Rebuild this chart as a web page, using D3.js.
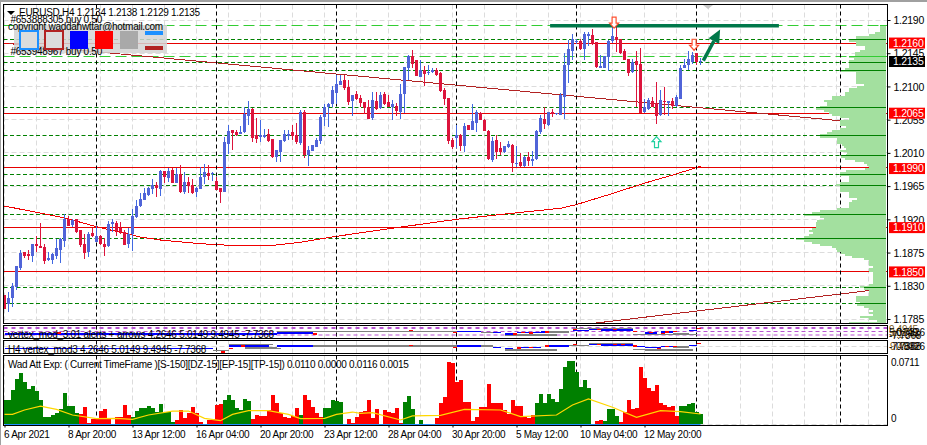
<!DOCTYPE html>
<html><head><meta charset="utf-8">
<style>html,body{margin:0;padding:0;background:#fff;overflow:hidden}
svg{display:block}
text{font-family:"Liberation Sans",Arial,sans-serif;font-size:10px;letter-spacing:-0.28px;fill:#000}
</style></head><body>
<script src="https://cdn.jsdelivr.net/npm/d3@7"></script>
<script>
// Prices are quoted in 1/10000 units (11817 = 1.1817)
const candleOpen=[11817,11805,11813,11828,11854,11876,11873,11870,11887,11884,
11883,11865,11865,11870,11878,11891,11920,11912,11920,11906,
11887,11876,11901,11889,11897,11887,11884,11914,11915,11908,
11903,11887,11900,11923,11938,11946,11953,11961,11967,11961,
11986,11976,11987,11969,11981,11957,11971,11967,11957,11961,
11977,11983,11981,11972,11962,11957,12022,12041,12038,12036,
12038,12060,12069,12034,12032,12032,12036,12029,12005,12011,
12026,12033,12038,12034,12023,12065,12007,12013,12018,12026,
12059,12072,12076,12091,12102,12109,12099,12080,12090,12084,
12079,12072,12057,12080,12071,12090,12079,12072,12074,12065,
12090,12125,12141,12136,12113,12122,12118,12120,12122,12118,
12095,12084,12027,12030,12034,12019,12048,12041,12050,12064,
12055,12040,12000,12027,12017,12011,12018,12021,11995,11998,
11992,12005,11999,12002,12038,12056,12048,12065,12063,12061,
12086,12129,12148,12160,12162,12151,12168,12170,12160,12125,
12125,12140,12162,12167,12164,12148,12137,12120,12135,12130,
12065,12069,12080,12078,12061,12080,12078,12080,12074,12083,
12125,12129,12133,12145,12134];
const candleHigh=[11818,11822,11834,11857,11878,11876,11878,11887,11897,11915,
11887,11876,11874,11893,11895,11927,11925,11920,11920,11906,
11900,11903,11908,11911,11899,11895,11918,11920,11918,11916,
11906,11908,11934,11946,11956,11962,11964,11975,11971,11987,
11986,11990,11990,11990,11994,11984,11977,11975,11964,11991,
11995,11994,11984,11977,11962,12032,12048,12041,12041,12046,
12072,12080,12071,12057,12055,12042,12042,12029,12014,12027,
12041,12041,12048,12050,12068,12068,12019,12021,12030,12061,
12076,12078,12101,12116,12116,12116,12109,12088,12094,12088,
12079,12082,12092,12092,12092,12092,12088,12082,12078,12103,
12126,12143,12149,12136,12136,12128,12129,12125,12125,12120,
12098,12084,12030,12048,12036,12050,12048,12076,12068,12065,
12056,12041,12032,12034,12025,12019,12026,12022,12019,12010,
12006,12011,12013,12041,12061,12072,12065,12069,12064,12091,
12145,12163,12171,12164,12164,12174,12174,12178,12160,12143,
12141,12163,12183,12185,12164,12151,12137,12137,12148,12152,
12083,12084,12086,12106,12095,12099,12080,12084,12088,12129,
12137,12148,12147,12145,12138];
const candleLow=[11799,11795,11801,11824,11851,11868,11865,11862,11876,11881,
11860,11864,11860,11866,11861,11883,11911,11910,11901,11883,
11866,11869,11896,11889,11885,11870,11883,11903,11897,11900,
11885,11881,11877,11922,11937,11946,11952,11954,11950,11952,
11969,11971,11969,11969,11956,11954,11956,11954,11950,11961,
11968,11973,11972,11960,11942,11957,12009,12014,12033,12036,
12037,12048,12025,12023,12025,12030,12025,12003,11998,11998,
12025,12027,12027,12022,12021,12003,11992,12013,12018,12022,
12046,12045,12072,12076,12102,12095,12075,12060,12082,12072,
12063,12056,12055,12068,12069,12075,12072,12055,12060,12056,
12064,12109,12125,12114,12113,12101,12116,12118,12114,12092,
12075,12022,12015,12017,12013,12011,12041,12041,12038,12055,
12040,12000,11998,12002,12007,12010,12017,11984,11991,11991,
11991,11992,11992,12000,12036,12042,12046,12059,12061,12061,
12056,12105,12136,12158,12149,12136,12155,12156,12125,12125,
12125,12121,12159,12147,12144,12136,12114,12118,12072,12064,
12064,12068,12072,12049,12060,12061,12060,12069,12072,12083,
12125,12122,12130,12129,12129];
const candleClose=[11799,11814,11830,11857,11874,11870,11870,11887,11884,11881,
11864,11868,11873,11881,11894,11920,11911,11919,11903,11885,
11874,11900,11897,11897,11887,11883,11914,11916,11904,11903,
11885,11900,11925,11938,11948,11956,11962,11967,11962,11986,
11977,11986,11969,11981,11957,11971,11965,11956,11962,11977,
11984,11979,11983,11960,11957,12025,12040,12037,12034,12038,
12063,12069,12030,12029,12034,12034,12026,12005,12014,12027,
12036,12036,12033,12025,12065,12007,12014,12021,12027,12059,
12072,12076,12095,12103,12107,12098,12079,12088,12083,12078,
12071,12056,12082,12069,12088,12076,12072,12076,12067,12090,
12126,12141,12130,12114,12122,12117,12120,12122,12116,12094,
12083,12026,12018,12034,12019,12046,12041,12053,12065,12055,
12040,12002,12026,12011,12011,12019,12022,11996,11996,11992,
12005,11999,12002,12040,12057,12049,12065,12063,12064,12088,
12129,12151,12164,12162,12151,12171,12171,12158,12126,12128,
12141,12162,12168,12163,12145,12136,12118,12133,12129,12064,
12072,12082,12072,12060,12082,12079,12080,12074,12086,12125,
12129,12137,12143,12133,12135];

const maIndex=[0,15,23,34,39,49,59,66,74,83,97,113,123,139,143,152,160,167,173,174];
const maPrice=[11938,11922,11910,11896,11892,11887,11884,11884,11889,11897,11908,11920,11926,11935,11940,11955,11969,11980,11990,11992];
const trendUpperIndex=[1,220], trendUpperPrice=[12158,12048];
const trendLowerIndex=[147,220], trendLowerPrice=[11779,11826];

const priceTicks=[1.2190,1.2145,1.2100,1.2055,1.2010,1.1965,1.1920,1.1875,1.1830,1.1785];
const redLevels=[1.21585,1.20635,1.1990,1.19095,1.1850];
const redLabels=[1.2160,1.2065,1.1990,1.1910,1.1850];
const greenLevels=[1.2164,1.2133,1.2121,1.2072,1.2034,1.2006,1.1981,1.1966,1.1926,1.1894,1.1828,1.1806];
const limeLevels=[1.2183,1.2140];
const currentPrice=1.2135;
const gridIndex=d3.range(0,221,8);
const separatorIndex=[23,53,83,113,143,173,209];
const timeIndex=[0,16,32,48,64,80,96,112,128,144,160];
const timeLabels=["6 Apr 2021","8 Apr 20:00","13 Apr 12:00","16 Apr 04:00","20 Apr 20:00","23 Apr 12:00","28 Apr 04:00","30 Apr 20:00","5 May 12:00","10 May 04:00","12 May 20:00"];

// volume profile: one bin per step, from top to bottom
const profileTop=1.21819, profileStep=0.000271;
const profileValues=[6,6,6,11,17,30,30,37,30,30,21,21,26,31,31,37,32,37,37,37,37,41,45,30,30,30,30,30,30,22,29,37,37,41,41,54,54,62,59,59,66,70,62,57,54,46,37,46,46,46,40,46,54,59,66,66,49,49,49,44,42,40,46,39,40,45,41,31,22,19,17,21,
40,46,46,37,37,37,46,50,46,46,46,37,37,37,29,34,37,37,37,49,66,74,82,66,62,69,70,70,70,74,77,73,77,82,90,82,74,66,54,50,49,45,41,34,22,17,17,17,13,17,17,13,13,13,13,13,13,17,26,22,17,17,17,30,30,30,26,29,22,17,13,17,13,26,17,9,37];

// lower panels
const p2BlueStart=[0,68,113,122,125,128,134,142,146,149,160,164,171,173];
const p2BlueEnd=[68,77,119,124,127,135,136,146,149,157,163,167,173,174];
const p2BlueValue=[-3,-1.5,.5,-1,-3,-1,0,2.5,4,3,-1.5,0,2.5,5];
const p2GrayStart=[68,77,99,119,125,136,142,157,167];
const p2GrayEnd=[77,99,113,122,138,141,157,173,171];
const p2GrayValue=[1,.5,.5,-.5,-4.5,0,5,-4,-2];
const p2RedIndex=[13,77,101,112,127,129,131,135,142,148,152,157,161,164,165,167,173];
const p2RedValue=[-1.5,-3,2.5,-.5,-3,-1,-1.5,0,4,3.5,4,1,-1,-2,0,.5,5];
const p3BlueStart=[0,56,68,113,122,125,128,135,146,149,157,160,164,171,173];
const p3BlueEnd=[52,66,77,119,124,127,134,141,149,157,160,164,167,173,174];
const p3BlueValue=[-4,0,0,0,-2,-4,-2,0,2.5,1.5,-.5,-2.5,-1,1,3.5];
const p3GrayStart=[52,56,60,66,77,99,119,125,134,141,146,157,160,167];
const p3GrayEnd=[56,67,68,69,99,113,122,137,138,146,157,165,172,171];
const p3GrayValue=[-7,2,-3,-4,0,0,0,-6,-6,1,3,-5,-6,-1.5];
const p3RedIndex=[54,56,59,101,112,128,131,135,142,148,152,154,157,163,165,167,173];
const p3RedValue=[-9,-4,0,1,-2,-3,-2,0,2,2.5,2.5,2.5,0,-4,-1,-1,3.5];

// histogram, in 1/10000 units
const wadValues=[269,269,380,507,574,474,388,429,373,269,82,75,101,119,164,343,201,201,119,112,187,15,52,63,149,168,52,0,82,82,213,101,82,149,175,175,201,175,138,224,138,138,26,45,157,63,119,187,119,26,0,45,52,213,224,269,325,269,175,157,276,261,52,101,90,90,157,325,239,119,82,63,90,175,101,325,269,187,119,75,175,175,269,261,250,0,52,7,82,138,149,269,63,164,0,157,138,119,175,7,250,313,164,0,45,0,0,0,63,231,298,690,679,474,492,250,250,34,82,187,187,448,231,231,231,157,112,269,201,201,82,63,101,231,336,239,336,276,250,392,642,711,709,586,418,492,399,0,37,45,34,164,164,90,26,138,269,164,175,638,511,399,369,436,231,213,187,201,90,201,201,224,231,131,112];
const wadColorRuns=[[0,18,"g"],[19,31,"r"],[32,42,"g"],[43,54,"r"],[55,61,"g"],[62,73,"r"],[74,74,"g"],[75,79,"r"],[80,85,"g"],[86,99,"r"],[100,107,"g"],[108,132,"r"],[133,146,"g"],[147,149,"r"],[150,153,"g"],[154,168,"r"],[169,174,"g"]];
const wadAvgIndex=[0,2,5,9,13,17,23,28,32,36,42,46,50,54,57,61,66,71,74,80,83,87,89,92,99,102,109,115,124,129,138,142,146,152,158,164,169,174];
const wadAvgValue=[108,108,157,201,164,101,60,63,52,101,145,145,63,37,108,149,149,108,60,63,108,134,119,127,45,90,97,164,157,82,101,213,280,187,75,149,138,112];
const arrowIndex=[152.4,172.4,163], arrowPrice=[1.2179,1.2149,1.2032], arrowDir=[-1,-1,1];

const W=927,H=445;
const svg=d3.select("body").append("svg").attr("width",W).attr("height",H);
const P={left:3.5,right:887.5};
const panels=[{t:4.5,b:323.5},{t:325.5,b:338.5},{t:340.5,b:353.5},{t:355.5,b:425.5}];
const x=d3.scaleLinear().domain([0,174]).range([4.5,700.5]);
const y=d3.scaleLinear().domain([1.2190,1.1785]).range([20,319]);
const yPip=v=>y(v/10000);
const snap=v=>Math.floor(v)+.5;
const y2=d3.scaleLinear().domain([-10,10]).range([338.67,325.33]);
const y3=d3.scaleLinear().domain([-10,10]).range([352.67,339.33]);
const y4=d3.scaleLinear().domain([0,711]).range([424,360.5]);
const prof=d3.scaleLinear().domain([0,100]).range([886,786]);

svg.append("rect").attr("x",0).attr("y",0).attr("width",W).attr("height",2).attr("fill","#a0a0a0");
svg.append("rect").attr("x",0).attr("y",0).attr("width",1).attr("height",H).attr("fill","#a0a0a0");

const defs=svg.append("defs");
defs.append("clipPath").attr("id","cMain").append("rect").attr("x",P.left).attr("y",panels[0].t).attr("width",P.right-P.left).attr("height",panels[0].b-panels[0].t);

// vertical + horizontal grid
const grid=svg.append("g").attr("stroke","#dcdcdc").attr("stroke-dasharray","5,3");
panels.forEach(p=>{
  grid.selectAll(null).data(gridIndex).join("line")
   .attr("x1",d=>x(d)).attr("x2",d=>x(d)).attr("y1",p.t).attr("y2",p.b);
});
grid.selectAll(null).data(priceTicks).join("line")
  .attr("x1",P.left).attr("x2",P.right).attr("y1",d=>snap(y(d))).attr("y2",d=>snap(y(d)));
grid.append("line").attr("x1",P.left).attr("x2",P.right).attr("y1",346.5).attr("y2",346.5);
grid.append("line").attr("x1",P.left).attr("x2",P.right).attr("y1",424.5).attr("y2",424.5);

// main chart
const main=svg.append("g").attr("clip-path","url(#cMain)");
main.selectAll(".lime").data(limeLevels).join("line").attr("x1",P.left).attr("x2",P.right)
  .attr("y1",d=>snap(y(d))).attr("y2",d=>snap(y(d))).attr("stroke","#32cd32").attr("stroke-dasharray","11,5");
main.selectAll(".grn").data(greenLevels).join("line").attr("x1",P.left).attr("x2",P.right)
  .attr("y1",d=>snap(y(d))).attr("y2",d=>snap(y(d))).attr("stroke","#008000").attr("stroke-dasharray","4,2.5");
main.selectAll(".red").data(redLevels).join("line").attr("x1",P.left).attr("x2",P.right)
  .attr("y1",d=>snap(y(d))).attr("y2",d=>snap(y(d))).attr("stroke","#e60000");
const lineGen=d3.line().x(d=>x(d[0])).y(d=>yPip(d[1]));
main.append("path").attr("d",lineGen(d3.zip(trendUpperIndex,trendUpperPrice))).attr("fill","none").attr("stroke","#b22222").attr("shape-rendering","crispEdges");
main.append("path").attr("d",lineGen(d3.zip(trendLowerIndex,trendLowerPrice))).attr("fill","none").attr("stroke","#b22222").attr("shape-rendering","crispEdges");
main.append("path").attr("d",lineGen(d3.zip(maIndex,maPrice))).attr("fill","none").attr("stroke","#f00000").attr("shape-rendering","crispEdges");

// separators (black dashed)
const sep=svg.append("g").attr("stroke","#000").attr("stroke-dasharray","4,3");
panels.forEach(p=>{
  sep.selectAll(null).data(separatorIndex).join("line")
   .attr("x1",d=>x(d)).attr("x2",d=>x(d)).attr("y1",p.t).attr("y2",p.b);
});

// profile
const profG=svg.append("g").attr("fill","#a3e09f").attr("shape-rendering","crispEdges");
const binY=k=>y(profileTop-k*profileStep);
profG.selectAll("rect").data(profileValues).join("rect")
  .attr("x",d=>prof(d)).attr("width",d=>prof(0)-prof(d))
  .attr("y",(d,k)=>binY(k)).attr("height",2);
svg.append("g").selectAll("line").data(greenLevels).join("line")
  .attr("y1",d=>snap(y(d))).attr("y2",d=>snap(y(d))).attr("x2",prof(0)).attr("stroke","#008000")
  .attr("x1",d=>{const k=Math.round((profileTop-d)/profileStep);return prof(profileValues[Math.max(0,Math.min(profileValues.length-1,k))]);});
svg.append("g").selectAll("line").data(limeLevels).join("line")
  .attr("y1",d=>snap(y(d))).attr("y2",d=>snap(y(d))).attr("x2",prof(0)).attr("stroke","#32cd32")
  .attr("x1",d=>{const k=Math.round((profileTop-d)/profileStep);return prof(profileValues[Math.max(0,Math.min(profileValues.length-1,k))]);});

// candles
const idx=d3.range(candleOpen.length);
const blue="#5064d8", red="#dc143c";
const cg=svg.append("g").attr("shape-rendering","crispEdges");
cg.selectAll(".w").data(idx).join("rect").attr("x",i=>x(i)-.5).attr("width",1)
  .attr("y",i=>yPip(candleHigh[i])).attr("height",i=>yPip(candleLow[i])-yPip(candleHigh[i]))
  .attr("fill",i=>candleClose[i]>=candleOpen[i]?"#4169e1":red);
cg.selectAll(".b").data(idx).join("rect").attr("x",i=>x(i)-1.5).attr("width",3)
  .attr("y",i=>yPip(Math.max(candleOpen[i],candleClose[i])))
  .attr("height",i=>Math.max(1,Math.abs(yPip(candleOpen[i])-yPip(candleClose[i]))))
  .attr("fill",i=>candleClose[i]>=candleOpen[i]?blue:red);

// big green line + arrow
const bigLineIndex=[136.4,193.6], bigLinePrice=[1.2183,1.2183];
svg.append("line").attr("x1",x(bigLineIndex[0])).attr("x2",x(bigLineIndex[1]))
  .attr("y1",y(bigLinePrice[0])+.5).attr("y2",y(bigLinePrice[1])+.5).attr("stroke","#00784a").attr("stroke-width",3.5);
const bigArrowIndex=[174.7,178.9], bigArrowPrice=[1.2135,1.2177];
{
 const x0=x(bigArrowIndex[0]),y0=y(bigArrowPrice[0]),x1=x(bigArrowIndex[1]),y1=y(bigArrowPrice[1]);
 const a=Math.atan2(y1-y0,x1-x0),ux=Math.cos(a),uy=Math.sin(a);
 const hx=x1-ux*13,hy=y1-uy*13;
 svg.append("line").attr("x1",x0).attr("y1",y0).attr("x2",hx).attr("y2",hy).attr("stroke","#00784a").attr("stroke-width",3.5);
 svg.append("path").attr("fill","#00784a").attr("d",`M${x1},${y1}L${hx-uy*6},${hy+ux*6}L${hx+uy*6},${hy-ux*6}Z`);
}
// top grey marker
svg.append("path").attr("fill","#c8c8c8").attr("d","M703,5L713,5L708,9Z");

// hollow arrows
const arrowG=svg.append("g");
arrowIndex.forEach((ai,n)=>{
 const cx=x(ai),tip=y(arrowPrice[n]),d=arrowDir[n]; // d=-1 points down, tip at bottom
 const s=d<0?-1:1, h=11;
 const p=[[0,0],[4.5,5*s],[2,5*s],[2,h*s],[-2,h*s],[-2,5*s],[-4.5,5*s]];
 const col=d<0?["#ff5030","#ffb0a0"]:["#20d0a0","#90ffc0"];
 arrowG.append("polygon").attr("points",p.map(q=>[cx+q[0],tip+q[1]].join(",")).join(" "))
   .attr("fill","#fff").attr("stroke",col[0]).attr("stroke-width",1.2);
});

// histogram
const colorAt=i=>wadColorRuns.find(r=>i>=r[0]&&i<=r[1])[2]==="g"?"#008000":"#ff0000";
svg.append("g").attr("shape-rendering","crispEdges").selectAll("rect").data(wadValues).join("rect")
  .attr("x",(d,i)=>x(i)-2).attr("width",4).attr("y",d=>y4(d)).attr("height",d=>y4(0)-y4(d))
  .attr("fill",(d,i)=>colorAt(i));
svg.append("line").attr("x1",x(0)).attr("x2",x(174)).attr("y1",424.5).attr("y2",424.5).attr("stroke","#1e90ff");
svg.append("path").attr("fill","none").attr("stroke","#ffd700").attr("stroke-width",1.2)
  .attr("d",d3.line().x(d=>x(d[0])).y(d=>y4(d[1]))(d3.zip(wadAvgIndex,wadAvgValue)));

// vertex panels
const purple=svg.append("g").attr("stroke","#ba55d3");
purple.append("line").attr("x1",P.left).attr("x2",P.right).attr("y1",328).attr("y2",328).attr("stroke-width",2).attr("stroke-dasharray","4,4");
purple.append("line").attr("x1",P.left).attr("x2",P.right).attr("y1",331.5).attr("y2",331.5).attr("stroke-dasharray","4,3");
purple.append("line").attr("x1",P.left).attr("x2",P.right).attr("y1",335).attr("y2",335).attr("stroke-dasharray","4,3");
function seg(sc,start,end,val,color){
  svg.append("g").attr("stroke",color).attr("stroke-width",1.6).attr("shape-rendering","crispEdges")
   .selectAll("line").data(start).join("line")
   .attr("x1",d=>x(d)).attr("x2",(d,i)=>x(end[i])).attr("y1",(d,i)=>sc(val[i])).attr("y2",(d,i)=>sc(val[i]));
}
seg(y2,p2GrayStart,p2GrayEnd,p2GrayValue,"#808080");
seg(y2,p2BlueStart,p2BlueEnd,p2BlueValue,"#0000ff");
seg(y2,p2RedIndex,p2RedIndex.map(d=>d+1),p2RedValue,"#ff0000");
seg(y3,p3GrayStart,p3GrayEnd,p3GrayValue,"#808080");
seg(y3,p3BlueStart,p3BlueEnd,p3BlueValue,"#0000ff");
seg(y3,p3RedIndex,p3RedIndex.map(d=>d+1),p3RedValue,"#ff0000");

// frames
svg.append("g").attr("fill","none").attr("stroke","#000").selectAll("rect").data(panels).join("rect")
  .attr("x",P.left).attr("width",P.right-P.left).attr("y",d=>d.t).attr("height",d=>d.b-d.t);

// axes
const yAxis=d3.axisRight(y).tickValues(priceTicks).tickFormat(d3.format(".4f")).tickSize(3).tickPadding(3);
const ya=svg.append("g").attr("transform",`translate(${P.right},0)`).call(yAxis);
ya.select(".domain").remove();
ya.selectAll("text").style("font-family",'"Liberation Sans",Arial,sans-serif').style("font-size","10.5px").attr("dy","0.35em");
const xAxis=d3.axisBottom(x).tickValues(timeIndex).tickFormat((d,i)=>timeLabels[i]).tickSize(2);
const xa=svg.append("g").attr("transform",`translate(0,${panels[3].b})`).call(xAxis);
xa.select(".domain").remove();
xa.selectAll("text").attr("text-anchor","start").attr("x",-1).attr("y",5).attr("dy","0.71em")
  .style("font-family",'"Liberation Sans",Arial,sans-serif').style("font-size","10px");

// price labels
const labels=svg.append("g");
const labelData=redLabels.map(p=>({p,c:"#ff0000"})).concat([{p:currentPrice,c:"#000"}]);
labels.selectAll("rect").data(labelData).join("rect").attr("x",889).attr("width",36)
  .attr("y",d=>y(d.p)-4.6).attr("height",11).attr("fill",d=>d.c);
labels.selectAll("text").data(labelData).join("text").attr("x",893).attr("y",d=>y(d.p)+.9).attr("dy","0.35em")
  .style("fill","#fff").style("font-size","10.5px").text(d=>d3.format(".4f")(d.p));

// lower-panel axis labels
const t=(txt,xx,yy,col)=>svg.append("text").attr("x",xx).attr("y",yy).attr("dy","0.35em").style("fill",col||"#000").text(txt);
[["9.4945",889,329,"#806020"],["5.0149",889,332,"#000"],["4.2646",891,334,"#806020"],["0.7326",896,332,"#000"],["-7.7368",889,335,"#000"],["9.4945",890,346,"#806020"],["0.8326",896,346,"#000"],["-7.7368",889,346,"#000"]].forEach(a=>t(a[0],a[1],a[2],a[3]));
t("0.0711",891,362.5);t("0",891,418.5);

// overlay text
t("EURUSD,H4  1.2134 1.2138 1.2129 1.2135",19,12.5);
svg.append("path").attr("d","M7,11L15,11L11,15Z").attr("fill","#000");
t("#653888305 buy 0.50",10.5,19.5);
svg.append("rect").attr("x",14).attr("y",25).attr("width",153).attr("height",28).attr("fill","#d4d4d4").attr("opacity",.85);
t("copyright  waddahwttar@hotmail.com",8,26.5);
t("#653948967 buy 0.50",10.5,51.5);
const btn=svg.append("g");
[[20,31,18,18,"#dcdcdc","#1e90ff"],[45,31,18,18,"#dcdcdc","#b22222"]].forEach(b=>btn.append("rect").attr("x",b[0]).attr("y",b[1]).attr("width",b[2]).attr("height",b[3]).attr("fill",b[4]).attr("stroke",b[5]).attr("stroke-width",2));
[[70,31,18,18,"#0000ff"],[95,31,18,18,"#ff0000"],[120,31,18,18,"#a9a9a9"],[145,31,18,4,"#1e90ff"],[145,46,18,4,"#b22222"]].forEach(b=>btn.append("rect").attr("x",b[0]).attr("y",b[1]).attr("width",b[2]).attr("height",b[3]).attr("fill",b[4]));
t("vertex_mod_3.01 alerts + arrows 4.2646 5.0149 9.4945 -7.7368",8,334);
t("H4 vertex_mod3 4.2646 5.0149 9.4945 -7.7368",8,349);
t("Wad Att Exp: ( Current TimeFrame )[S-150][DZ-15][EP-15][TP-15]) 0.0110 0.0000 0.0116 0.0015",8,364.5);
</script>
</body></html>
